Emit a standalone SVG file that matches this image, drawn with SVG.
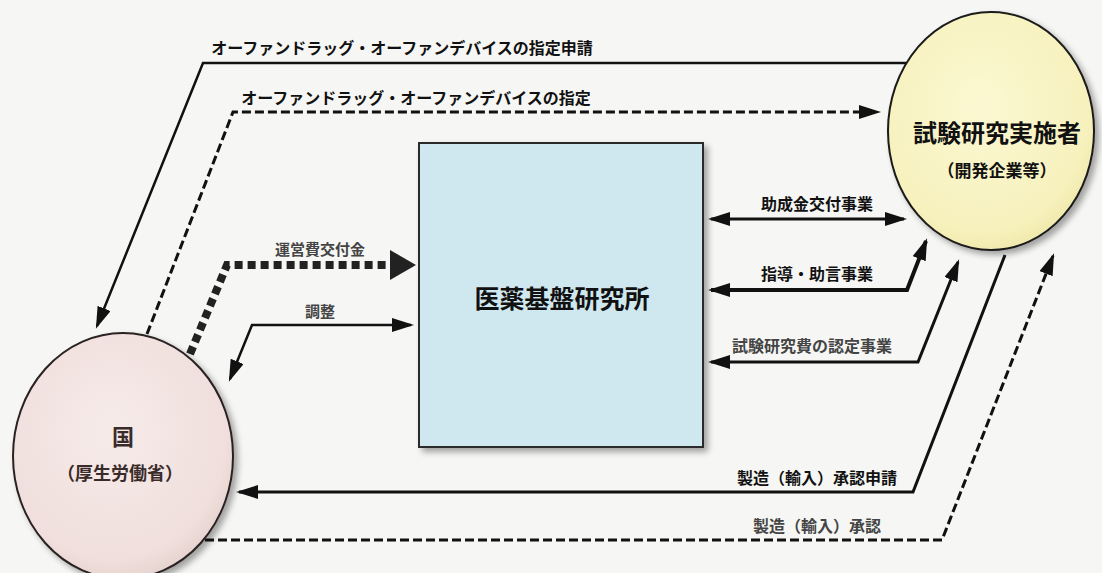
<svg xmlns="http://www.w3.org/2000/svg" width="1102" height="573" viewBox="0 0 1102 573">
<style>
text{font-family:"Noto Sans CJK JP","Noto Sans CJK SC",sans-serif;font-weight:bold;text-anchor:middle;dominant-baseline:central}
.lbl{font-size:16px;fill:#111}
.lbl2{font-size:16px;fill:#444}
.ln{fill:none;stroke:#111;stroke-width:3;stroke-linejoin:miter}
.dash{fill:none;stroke:#111;stroke-width:3;stroke-dasharray:9 4}
.dot{fill:none;stroke:#222;stroke-width:8;stroke-dasharray:8 5}
</style>
<defs>
<marker id="ah" markerUnits="userSpaceOnUse" markerWidth="22" markerHeight="14" viewBox="0 0 22 14" refX="19" refY="7" orient="auto-start-reverse"><path d="M0,0 L22,7 L0,14 z" fill="#111"/></marker>
<marker id="ahb" markerUnits="userSpaceOnUse" markerWidth="26" markerHeight="30" viewBox="0 0 26 30" refX="2" refY="15" orient="auto"><path d="M0,0 L26,15 L0,30 z" fill="#222"/></marker>
<radialGradient id="gPink" cx="0.45" cy="0.4" r="0.65"><stop offset="0" stop-color="#f6ebe9"/><stop offset="0.8" stop-color="#f0dfdc"/><stop offset="1" stop-color="#e3cfcc"/></radialGradient>
<radialGradient id="gYel" cx="0.45" cy="0.4" r="0.65"><stop offset="0" stop-color="#fbf8d2"/><stop offset="0.8" stop-color="#f7f1bd"/><stop offset="1" stop-color="#eee6a6"/></radialGradient>
<filter id="sh" x="-10%" y="-10%" width="125%" height="125%"><feGaussianBlur in="SourceAlpha" stdDeviation="3"/><feOffset dx="4" dy="4"/><feComponentTransfer><feFuncA type="linear" slope="0.35"/></feComponentTransfer><feMerge><feMergeNode/><feMergeNode in="SourceGraphic"/></feMerge></filter>
</defs>
<rect width="1102" height="573" fill="#f6f7f4"/>

<g id="node-institute">
<rect x="419" y="143" width="284" height="304" fill="#cfe8ef" stroke="#2a2a2a" stroke-width="2" filter="url(#sh)"/>
<text x="562" y="297" style="font-size:25px;fill:#111">医薬基盤研究所</text>
</g>

<g id="node-kuni">
<ellipse cx="123" cy="456" rx="110" ry="123" fill="url(#gPink)" stroke="#2a2222" stroke-width="2" filter="url(#sh)"/>
<text x="123" y="435" style="font-size:22px;fill:#3a2b2b">国</text>
<text x="120" y="472" style="font-size:18px;fill:#3a2b2b">（厚生労働省）</text>
</g>

<g id="node-researcher">
<ellipse cx="991" cy="131" rx="103" ry="119" fill="url(#gYel)" stroke="#1a1a1a" stroke-width="2" filter="url(#sh)"/>
<text x="997" y="131" style="font-size:24px;fill:#111">試験研究実施者</text>
<text x="997" y="169" style="font-size:17px;fill:#111">（開発企業等）</text>
</g>

<g id="connectors">
<polyline class="ln" points="906,63 203,63 97,326" marker-end="url(#ah)" style="stroke-width:2.5"/>
<polyline class="dash" points="147,334 233,112 878,112" marker-end="url(#ah)"/>
<polyline class="dot" points="190,354 227,265 392,265" marker-end="url(#ahb)"/>
<polyline class="ln" points="230,379 252,325 411,325" marker-start="url(#ah)" marker-end="url(#ah)" style="stroke-width:2.5"/>
<line class="ln" x1="711" y1="219" x2="904" y2="219" marker-start="url(#ah)" marker-end="url(#ah)"/>
<polyline class="ln" points="711,290 907,290 926,241" marker-start="url(#ah)" marker-end="url(#ah)" style="stroke-width:4"/>
<polyline class="ln" points="711,362 918,362 958,262" marker-start="url(#ah)" marker-end="url(#ah)"/>
<polyline class="ln" points="1005,255 913,492 239,492" marker-end="url(#ah)"/>
<polyline class="dash" points="205,540 942,540 1053,256" marker-end="url(#ah)"/>
</g>

<g id="labels">
<text class="lbl" x="402" y="47">オーファンドラッグ・オーファンデバイスの指定申請</text>
<text class="lbl" x="416" y="97">オーファンドラッグ・オーファンデバイスの指定</text>
<text class="lbl2" x="320" y="248" style="font-size:15px">運営費交付金</text>
<text class="lbl2" x="320" y="310" style="font-size:15px">調整</text>
<text class="lbl" x="817" y="203">助成金交付事業</text>
<text class="lbl" x="817" y="273">指導・助言事業</text>
<text class="lbl2" x="812" y="345">試験研究費の認定事業</text>
<text class="lbl" x="817" y="477">製造（輸入）承認申請</text>
<text class="lbl2" x="817" y="525">製造（輸入）承認</text>
</g>
</svg>
